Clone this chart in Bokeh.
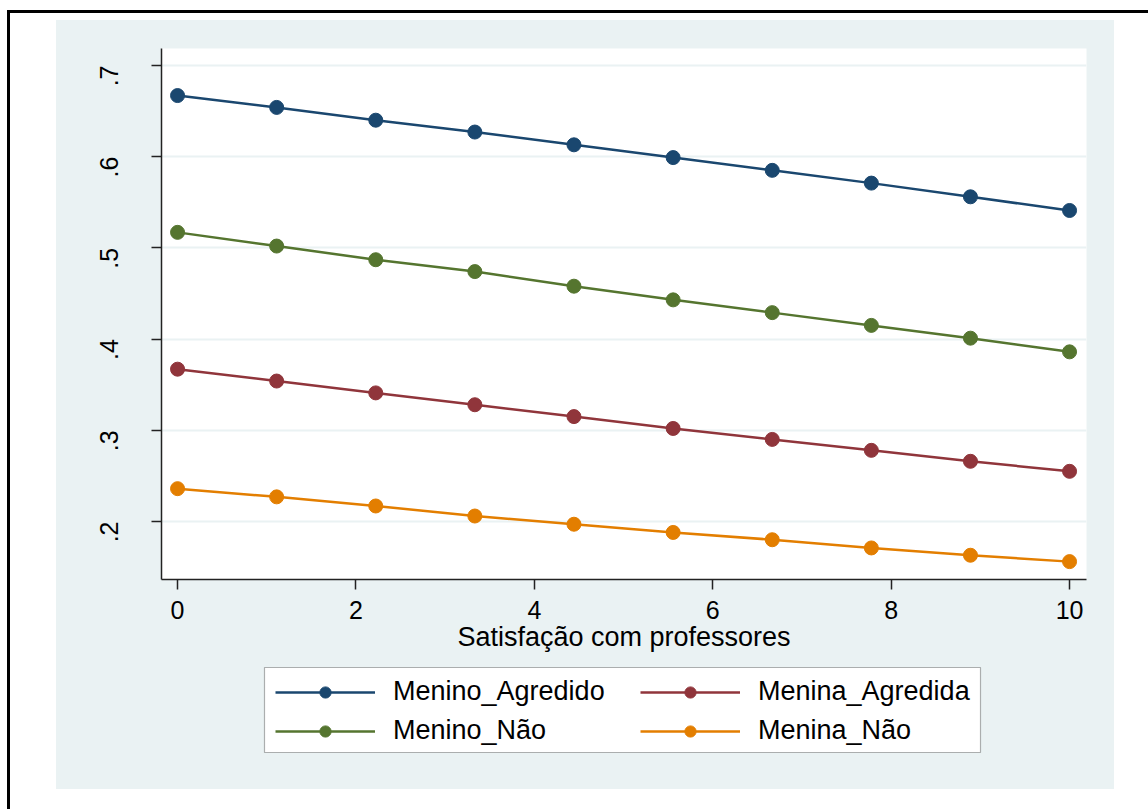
from bokeh.plotting import figure
from bokeh.layouts import column, row
from bokeh.models import (BoxAnnotation, Legend, LegendItem, FixedTicker,
                          CustomJSTickFormatter, Range1d, Div)
from bokeh.embed import file_html
from bokeh.resources import INLINE

# Predicted probabilities by satisfaction with teachers
x_vals = [0, 1.111, 2.222, 3.333, 4.444, 5.556, 6.667, 7.778, 8.889, 10]
menino_agredido = [0.667, 0.654, 0.640, 0.627, 0.613, 0.599, 0.585, 0.571, 0.556, 0.541]
menino_nao = [0.517, 0.502, 0.487, 0.474, 0.458, 0.443, 0.429, 0.415, 0.401, 0.386]
menina_agredida = [0.367, 0.354, 0.341, 0.328, 0.315, 0.302, 0.290, 0.278, 0.266, 0.255]
menina_nao = [0.236, 0.227, 0.217, 0.206, 0.197, 0.188, 0.180, 0.171, 0.163, 0.156]

x_ticks = [0, 2, 4, 6, 8, 10]
y_ticks = [0.2, 0.3, 0.4, 0.5, 0.6, 0.7]
x_title = "Satisfação com professores"

series = [
    ("Menino_Agredido", menino_agredido, "#1A476F"),
    ("Menina_Agredida", menina_agredida, "#90353B"),
    ("Menino_Não", menino_nao, "#55752F"),
    ("Menina_Não", menina_nao, "#E37E00"),
]
legend_cols = [["Menino_Agredido", "Menino_Não"], ["Menina_Agredida", "Menina_Não"]]

FONT = "Liberation Sans"
REGION = "#EAF2F3"
GW, GH = 1058, 769          # graph region size
PH = 642                    # height taken by the plot part
BL, BR = 105, 28            # left / right borders around the plot frame
FW = GW - BL - BR           # frame width

# ---- main plot -------------------------------------------------------------
p = figure(width=GW, height=PH, output_backend="svg", toolbar_location=None,
           x_range=Range1d(-0.18, 10.19), y_range=Range1d(0.1364, 0.7186),
           min_border_left=BL, min_border_right=BR,
           min_border_top=28, min_border_bottom=83)
p.border_fill_color = REGION
p.background_fill_color = "white"
p.outline_line_color = None

for name, vals, color in series:
    p.line(x_vals, vals, line_color=color, line_width=2.5)
    p.scatter(x_vals, vals, size=14, fill_color=color, line_color=color)

p.xaxis.ticker = FixedTicker(ticks=x_ticks)
p.yaxis.ticker = FixedTicker(ticks=y_ticks)
p.yaxis.formatter = CustomJSTickFormatter(
    code="return tick.toFixed(1).replace(/^0/, '');")
for ax in (p.xaxis[0], p.yaxis[0]):
    ax.axis_line_color = "#222222"
    ax.axis_line_width = 1.5
    ax.major_tick_line_color = "#222222"
    ax.major_tick_line_width = 1.5
    ax.major_tick_out = 10
    ax.major_tick_in = 0
    ax.minor_tick_line_color = None
    ax.major_label_text_font = FONT
    ax.major_label_text_font_size = "25px"
    ax.major_label_text_color = "black"
p.yaxis.major_label_orientation = 1.5708
p.yaxis.major_label_standoff = 42
p.xaxis.major_label_standoff = 11
p.xaxis.axis_label = x_title
p.xaxis.axis_label_text_font = FONT
p.xaxis.axis_label_text_font_size = "27px"
p.xaxis.axis_label_text_font_style = "normal"
p.xaxis.axis_label_text_color = "black"
p.xaxis.axis_label_standoff = 0

p.xgrid.grid_line_color = None
p.ygrid.grid_line_color = REGION
p.ygrid.grid_line_width = 2

# ---- legend strip (frame lined up with the plot frame, pixel ranges) --------
LH = GH - PH
lg = figure(width=GW, height=LH, output_backend="svg", toolbar_location=None,
            x_range=Range1d(0, FW), y_range=Range1d(LH, 0),
            min_border_left=BL, min_border_right=BR,
            min_border_top=0, min_border_bottom=0,
            x_axis_type=None, y_axis_type=None)
lg.border_fill_color = REGION
lg.background_fill_color = REGION
lg.outline_line_color = None

lg.add_layout(BoxAnnotation(left=103, right=819, top=5, bottom=90,
                            fill_color="white", fill_alpha=1.0,
                            line_color="black", line_width=1.2,
                            level="underlay"))

nan = float("nan")
entries = {}
for name, vals, color in series:
    ln = lg.line([nan], [nan], line_color=color, line_width=2.5)
    sc = lg.scatter([nan], [nan], size=14, fill_color=color, line_color=color)
    entries[name] = LegendItem(label=name, renderers=[ln, sc])

for names, x0 in zip(legend_cols, (114, 479)):
    leg = Legend(items=[entries[n] for n in names], location=(x0, 43),
                 orientation="vertical")
    leg.label_text_font = FONT
    leg.label_text_font_size = "27px"
    leg.label_text_color = "black"
    leg.glyph_width = 100
    leg.glyph_height = 28
    leg.label_standoff = 18
    leg.spacing = 8
    leg.padding = 0
    leg.margin = 0
    leg.border_line_color = None
    leg.background_fill_alpha = 0
    lg.add_layout(leg, "center")

# ---- page frame --------------------------------------------------------------
top_rule = Div(text="", width=1141, height=3, margin=(10, 0, 0, 7),
               styles={"background-color": "black"})
left_rule = Div(text="", width=3, height=796, margin=(0, 0, 0, 7),
                styles={"background-color": "black"})
graph = column(p, lg, margin=(7, 0, 0, 46), spacing=0,
               styles={"background-color": REGION})
page = column(top_rule, row(left_rule, graph, spacing=0), spacing=0)

open("out.html", "w").write(file_html(page, INLINE))
